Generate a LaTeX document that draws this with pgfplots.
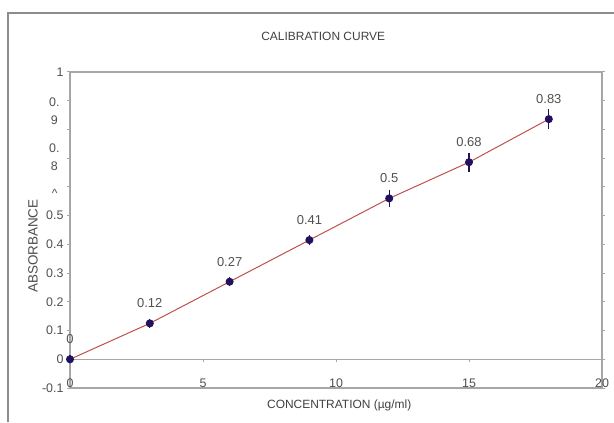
\documentclass[border=0pt]{standalone}
\usepackage{fontspec}
\setmainfont{Liberation Sans}
\usepackage{pgfplots}
\usepackage{pgfplotstable}
\pgfplotsset{compat=1.18}
\definecolor{navy}{HTML}{22125E}
\definecolor{trend}{HTML}{C0504D}
\definecolor{axgray}{HTML}{A6A6A6}
\definecolor{frame}{HTML}{8C8C8C}
\definecolor{txt}{HTML}{505050}
\pgfplotstableread{
x y e lab
0 0 0.004 0
3 0.125 0.006 0.12
6 0.27 0.006 0.27
9 0.415 0.008 0.41
12 0.56 0.02 0.5
15 0.686 0.022 0.68
18 0.836 0.025 0.83
}\calib
\begin{document}
\begin{tikzpicture}[x=1bp,y=1bp]
\path[use as bounding box] (-70,-34) rectangle (544,388);
\draw[frame, line width=1.5bp] (-62,-34) -- (-62,375) -- (544,375);
\begin{axis}[
  at={(0,0)}, anchor=south west,
  width=532bp, height=316bp, scale only axis,
  xmin=0, xmax=20, ymin=-0.1, ymax=1,
  clip=false,
  axis line style={axgray, line width=1.2bp},
  tick style={axgray, line width=1bp},
  tick align=outside,
  major tick length=3bp,
  xtick={0,5,10,15,20}, xticklabels={0,5,10,15,20},
  x tick style={draw=none},
  xticklabel style={anchor=base, yshift=4bp, txt, font=\fontsize{12.5}{14}\selectfont},
  ytick={-0.1,0,0.1,0.2,0.3,0.4,0.5,0.6,0.7,0.8,0.9,1},
  yticklabels={-0.1,0,0.1,0.2,0.3,0.4,0.5,{},{},{},{},1},
  yticklabel style={txt, font=\fontsize{12.5}{14}\selectfont},
  title={CALIBRATION CURVE},
  title style={at={(axis description cs:0.476,1.095)}, anchor=center, text=black!75, font=\fontsize{12}{14}\selectfont},
  xlabel={CONCENTRATION (µg/ml)},
  xlabel style={at={(axis description cs:0.506,-0.054)}, anchor=center, text=black!75, font=\fontsize{12}{14}\selectfont},
  ylabel={ABSORBANCE},
  ylabel style={at={(axis description cs:-0.0695,0.449)}, anchor=center, rotate=0, text=black!70, font=\fontsize{13.5}{15}\selectfont},
  point meta=explicit symbolic,
  nodes near coords,
  every node near coord/.append style={txt, anchor=center, yshift=20bp, font=\fontsize{13}{15}\selectfont},
]
\draw[axgray, line width=1.2bp] (axis cs:0,0) -- (axis cs:20,0);
\draw[axgray, line width=1bp] (axis cs:5,0) -- ([yshift=-3bp]axis cs:5,0);
\draw[axgray, line width=1bp] (axis cs:10,0) -- ([yshift=-3bp]axis cs:10,0);
\draw[axgray, line width=1bp] (axis cs:15,0) -- ([yshift=-3bp]axis cs:15,0);
\node[txt, anchor=east, align=center, font=\fontsize{12.5}{18}\selectfont] at ([xshift=-7bp]rel axis cs:0,0.8766) {0.\\9};
\node[txt, anchor=east, align=center, font=\fontsize{12.5}{18}\selectfont] at ([xshift=-7bp]rel axis cs:0,0.731) {0.\\8};
\node[txt, anchor=east, font=\fontsize{12}{14}\selectfont] at ([xshift=-9bp]rel axis cs:0,0.615) {\textasciicircum};
\addplot[trend, line width=1bp, mark=*, mark size=3.5bp,
  mark options={navy, fill=navy, solid},
  error bars/.cd, y dir=both, y explicit,
  error bar style={navy, line width=1.3bp},
  error mark options={navy, mark size=3bp, line width=1.2bp}]
  table[x=x, y=y, y error=e, meta=lab] {\calib};
\end{axis}
\end{tikzpicture}
\end{document}
